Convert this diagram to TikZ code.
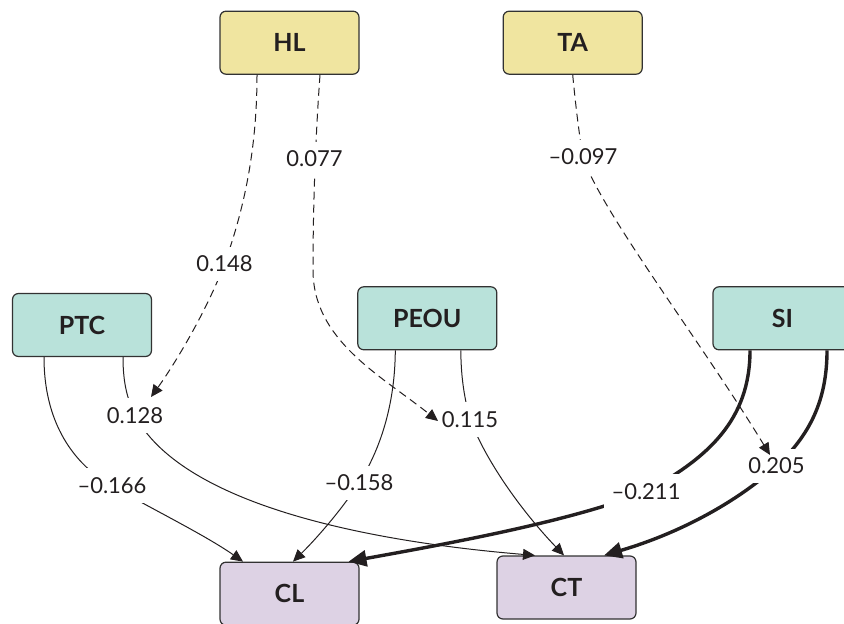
\documentclass[tikz,border=0pt]{standalone}
\usepackage{fontspec}
\setmainfont{Lato}
\usetikzlibrary{arrows.meta,calc}
\definecolor{hlfill}{RGB}{240,229,160}
\definecolor{mfill}{RGB}{185,226,218}
\definecolor{ofill}{RGB}{221,210,228}
\definecolor{ink}{RGB}{35,31,32}
\definecolor{edgec}{RGB}{50,50,50}
\begin{document}
\begin{tikzpicture}[x=0.5pt,y=-0.5pt,
  box/.style={draw=edgec, line width=0.6pt, rounded corners=3pt, minimum width=69.5pt, minimum height=31.5pt, inner sep=0pt, font=\fontsize{12.5}{14}\selectfont\bfseries, text=ink},
  lab/.style={fill=white, inner xsep=4pt, inner ysep=4.5pt, font=\fontsize{11}{13}\selectfont, text=ink},
  thinarrow/.style={draw=ink, line width=0.5pt, -{Triangle[length=6pt,width=5.5pt]}},
  heavyarrow/.style={draw=ink, line width=1.7pt, -{Triangle[length=9pt,width=8pt]}},
  modline/.style={draw=ink, line width=0.5pt, dash pattern=on 4pt off 2.5pt, -{Triangle[length=6pt,width=5.5pt]}}
]
\useasboundingbox (0,0) rectangle (844,624);
\clip (0,0) rectangle (844,624);

% boxes
\node[box, fill=hlfill] (HL) at (289.5,42.7) {HL};
\node[box, fill=hlfill] (TA) at (572.7,42.7) {TA};
\node[box, fill=mfill] (PTC) at (82,325) {PTC};
\node[box, fill=mfill] (PEOU) at (427.3,318.3) {PEOU};
\node[box, fill=mfill] (SI) at (782.5,318.3) {SI};
\node[box, fill=ofill] (CL) at (289.5,593.7) {CL};
\node[box, fill=ofill] (CT) at (566.5,587.5) {CT};

% moderation targets
\coordinate (m1) at (151,397);
\coordinate (m2) at (438,421);
\coordinate (m3) at (770,455);

% direct paths
\draw[thinarrow] ($(PTC.south)+(-38,0)$) .. controls (44,430) and (80,468) .. (112,486)
  .. controls (150,508) and (205,535) .. ($(CL.north)+(-46.5,0)$);
\draw[thinarrow] ($(PTC.south)+(41,0)$) .. controls (123,385) and (128,400) .. (135,415.5)
  .. controls (180,500) and (350,540) .. ($(CT.north)+(-31.5,0)$);
\draw[thinarrow] ($(PEOU.south)+(-32,0)$) .. controls (395,405) and (380,450) .. (359,483)
  .. controls (340,512) and (315,540) .. ($(CL.north)+(3.5,0)$);
\draw[thinarrow] ($(PEOU.south)+(33.5,0)$) .. controls (461,380) and (465,400) .. (470,419.5)
  .. controls (490,470) and (530,520) .. ($(CT.north)+(-2.5,0)$);
\draw[heavyarrow] ($(SI.south)+(-32.5,0)$) .. controls (750,420) and (708,458) .. (646,491.5)
  .. controls (570,522) and (440,545) .. ($(CL.north)+(59,0)$);
\draw[heavyarrow] ($(SI.south)+(44.5,0)$) .. controls (827,400) and (810,435) .. (776.5,466)
  .. controls (745,495) and (690,530) .. ($(CT.north)+(37.5,0)$);

% labels of direct paths
\node[lab] (l166) at (112,485.5) {–0.166};
\node[lab] (l128) at (135,415.5) {0.128};
\node[lab] (l158) at (359,483) {–0.158};
\node[lab] (l115) at (470,419.5) {0.115};
\node[lab] (l211) at (646,491.5) {–0.211};
\node[lab] (l205) at (776.5,466) {0.205};

% moderation paths
\draw[modline] ($(HL.south)+(-32.5,0)$) .. controls (257,160) and (240,220) .. (224.5,264)
  .. controls (205,315) and (172,368) .. (m1);
\draw[modline] ($(HL.south)+(30.5,0)$) .. controls (316,130) and (313,200) .. (313,270)
  .. controls (313,340) and (380,375) .. (m2);
\draw[modline] (TA.south) .. controls (576,110) and (580,140) .. (583,157)
  .. controls (600,210) and (700,340) .. (m3);

\node[lab] (l148) at (224.5,264) {0.148};
\node[lab] (l077) at (314.5,158.7) {0.077};
\node[lab] (l097) at (583,157) {–0.097};
\end{tikzpicture}
\end{document}
